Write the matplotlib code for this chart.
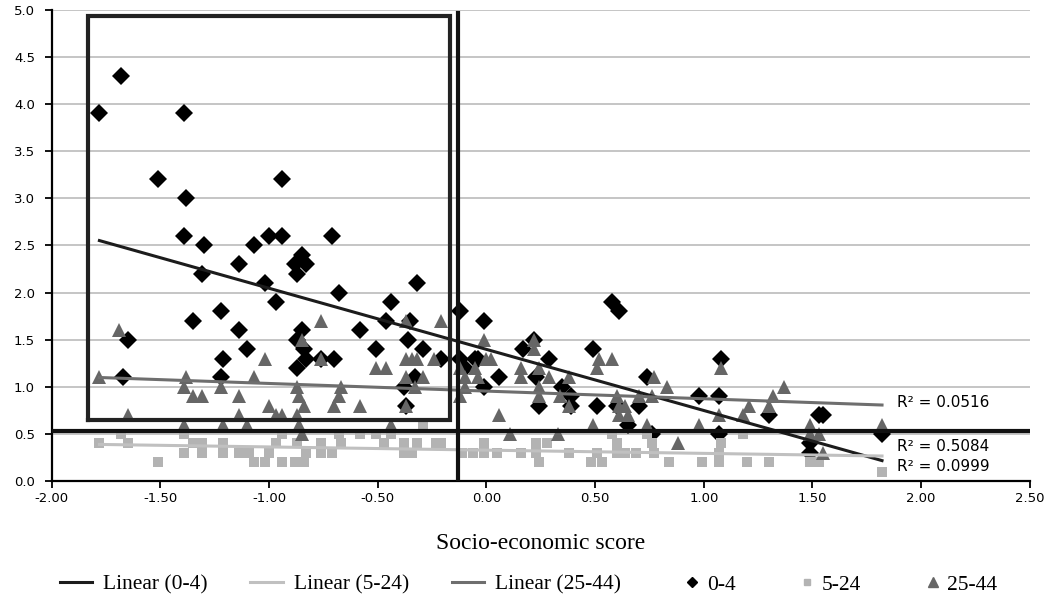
import numpy as np
import matplotlib
matplotlib.use('Agg')
import matplotlib.pyplot as plt
from matplotlib.lines import Line2D
from matplotlib.legend_handler import HandlerLine2D

# socio-economic score vs rate, three age groups
x_0_4 = [-1.78, -1.68, -1.39, -1.51, -0.94, -1.38, -1.39, -1.30, -1.07, -1.00,
         -0.94, -0.71, -1.14, -0.85, -0.88, -0.83, -0.87, -1.31, -1.02, -0.32,
         -0.97, -0.68, -0.44, -1.35, -1.22, -1.14, -1.10, -1.21, -1.22, -1.65,
         -1.67, -0.85, -0.87, -0.84, -0.83, -0.87, -0.76, -0.70, -0.46, -0.35,
         -0.58, -0.51, -0.36, -0.29, -0.21, -0.12, -0.12, -0.10, -0.01, -0.05,
         -0.04, 0.06, -0.01, -0.38, -0.37, -0.33, 0.17, 0.22, 0.29, 0.23,
         0.24, 0.35, 0.39, 0.39, 0.49, 0.51, 0.58, 0.61, 0.65, 0.60,
         0.70, 0.74, 0.76, 0.98, 1.07, 1.08, 1.07, 1.30, 1.49, 1.49,
         1.53, 1.55, 1.82]
y_0_4 = [3.9, 4.3, 3.9, 3.2, 3.2, 3.0, 2.6, 2.5, 2.5, 2.6,
         2.6, 2.6, 2.3, 2.4, 2.3, 2.3, 2.2, 2.2, 2.1, 2.1,
         1.9, 2.0, 1.9, 1.7, 1.8, 1.6, 1.4, 1.3, 1.1, 1.5,
         1.1, 1.6, 1.5, 1.4, 1.3, 1.2, 1.3, 1.3, 1.7, 1.7,
         1.6, 1.4, 1.5, 1.4, 1.3, 1.8, 1.3, 1.2, 1.7, 1.3,
         1.3, 1.1, 1.0, 1.0, 0.8, 1.1, 1.4, 1.5, 1.3, 1.1,
         0.8, 1.0, 0.9, 0.8, 1.4, 0.8, 1.9, 1.8, 0.6, 0.8,
         0.8, 1.1, 0.5, 0.9, 0.9, 1.3, 0.5, 0.7, 0.4, 0.3,
         0.7, 0.7, 0.5]

x_5_24 = [-1.78, -1.68, -1.65, -1.51, -1.39, -1.35, -1.31, -1.39, -1.31, -1.21,
          -1.21, -1.14, -1.09, -1.07, -1.02, -1.00, -0.97, -0.94, -0.94, -0.88,
          -0.84, -0.87, -0.83, -0.76, -0.76, -0.71, -0.67, -0.68, -0.58, -0.51,
          -0.44, -0.47, -0.38, -0.32, -0.38, -0.34, -0.29, -0.23, -0.21, -0.11,
          -0.06, -0.01, 0.05, -0.01, 0.16, 0.23, 0.28, 0.23, 0.24, 0.38,
          0.51, 0.48, 0.53, 0.58, 0.60, 0.60, 0.64, 0.69, 0.74, 0.76,
          0.77, 0.84, 0.99, 1.07, 1.08, 1.07, 1.18, 1.20, 1.30, 1.49,
          1.53, 1.82]
y_5_24 = [0.4, 0.5, 0.4, 0.2, 0.5, 0.4, 0.4, 0.3, 0.3, 0.4,
          0.3, 0.3, 0.3, 0.2, 0.2, 0.3, 0.4, 0.5, 0.2, 0.2,
          0.2, 0.4, 0.3, 0.4, 0.3, 0.3, 0.4, 0.5, 0.5, 0.5,
          0.5, 0.4, 0.4, 0.4, 0.3, 0.3, 0.6, 0.4, 0.4, 0.3,
          0.3, 0.3, 0.3, 0.4, 0.3, 0.4, 0.4, 0.3, 0.2, 0.3,
          0.3, 0.2, 0.2, 0.5, 0.4, 0.3, 0.3, 0.3, 0.5, 0.4,
          0.3, 0.2, 0.2, 0.2, 0.4, 0.3, 0.5, 0.2, 0.2, 0.2,
          0.2, 0.1]

x_25_44 = [-1.78, -1.69, -1.65, -1.38, -1.39, -1.35, -1.31, -1.39, -1.22, -1.21,
           -1.14, -1.14, -1.10, -1.07, -1.02, -1.00, -0.97, -0.94, -0.87, -0.85,
           -0.87, -0.86, -0.84, -0.86, -0.85, -0.76, -0.76, -0.70, -0.68, -0.67,
           -0.58, -0.51, -0.46, -0.44, -0.37, -0.37, -0.34, -0.32, -0.37, -0.29,
           -0.33, -0.37, -0.24, -0.21, -0.12, -0.12, -0.10, -0.10, -0.01, -0.05,
           0.00, 0.02, -0.04, 0.06, 0.11, 0.16, 0.16, 0.22, 0.22, 0.24,
           0.29, 0.24, 0.24, 0.34, 0.38, 0.38, 0.33, 0.51, 0.52, 0.58,
           0.49, 0.60, 0.61, 0.61, 0.64, 0.65, 0.70, 0.74, 0.76, 0.77,
           0.83, 0.88, 0.98, 1.08, 1.07, 1.18, 1.21, 1.30, 1.32, 1.37,
           1.49, 1.49, 1.53, 1.55, 1.82]
y_25_44 = [1.1, 1.6, 0.7, 1.1, 1.0, 0.9, 0.9, 0.6, 1.0, 0.6,
           0.9, 0.7, 0.6, 1.1, 1.3, 0.8, 0.7, 0.7, 0.7, 0.5,
           1.0, 0.9, 0.8, 0.6, 1.5, 1.7, 1.3, 0.8, 0.9, 1.0,
           0.8, 1.2, 1.2, 0.6, 1.7, 1.3, 1.3, 1.3, 1.1, 1.1,
           1.0, 0.8, 1.3, 1.7, 1.2, 0.9, 1.1, 1.0, 1.5, 1.2,
           1.3, 1.3, 1.1, 0.7, 0.5, 1.2, 1.1, 1.5, 1.4, 1.2,
           1.1, 1.0, 0.9, 0.9, 1.1, 0.8, 0.5, 1.2, 1.3, 1.3,
           0.6, 0.9, 0.8, 0.7, 0.8, 0.7, 0.9, 0.6, 0.9, 1.1,
           1.0, 0.4, 0.6, 1.2, 0.7, 0.7, 0.8, 0.8, 0.9, 1.0,
           0.6, 0.5, 0.5, 0.3, 0.6]

r2_labels = ['R² = 0.0516', 'R² = 0.5084', 'R² = 0.0999']
r2_pos = [(1.89, 0.83), (1.89, 0.37), (1.89, 0.16)]

# highlight shapes drawn over the chart
box_x = (-1.834, -0.166)
box_y = (0.65, 4.93)
cut_x = -0.13
cut_y = 0.535

series = [
    ('0-4', x_0_4, y_0_4, 'D', 9.0, '#000000', '#1c1c1c'),
    ('5-24', x_5_24, y_5_24, 's', 7.0, '#b3b3b3', '#c0c0c0'),
    ('25-44', x_25_44, y_25_44, '^', 10.5, '#666666', '#6e6e6e'),
]


class RightMarkerHandler(HandlerLine2D):
    # single marker sits next to the text, like Excel does
    def get_xdata(self, legend, xdescent, ydescent, width, height, fontsize):
        xdata = np.array([-xdescent + 0.76 * width, -xdescent + width])
        return xdata, xdata[:1]


fig = plt.figure(figsize=(10.53, 6.09), dpi=100)
ax = fig.add_axes([0.049, 0.21, 0.929, 0.774])

for name, xs, ys, marker, ms, color, _ in series:
    ax.plot(xs, ys, linestyle='none', marker=marker, markersize=ms,
            color=color, markeredgewidth=0, zorder=3)

for name, xs, ys, marker, ms, color, line_color in series:
    xs = np.array(xs)
    slope, intercept = np.polyfit(xs, ys, 1)
    fit_x = np.array([xs.min(), xs.max()])
    ax.plot(fit_x, slope * fit_x + intercept, color=line_color, lw=2.2, zorder=4)

for label, (tx, ty) in zip(r2_labels, r2_pos):
    ax.text(tx, ty, label, fontsize=11, va='center', ha='left', zorder=5)

ax.plot([box_x[0], box_x[0], box_x[1], box_x[1], box_x[0]],
        [box_y[0], box_y[1], box_y[1], box_y[0], box_y[0]],
        color='#222222', lw=3, solid_joinstyle='miter', zorder=6)
ax.plot([cut_x, cut_x], [0, 4.97], color='#111111', lw=3, zorder=6)
ax.axhline(cut_y, color='#111111', lw=3, zorder=6)

ax.set_xlim(-2.0, 2.5)
ax.set_ylim(0, 5.0)
ax.set_xticks(np.arange(-2.0, 2.51, 0.5))
ax.set_yticks(np.arange(0, 5.01, 0.5))
ax.set_xticklabels([f'{v:.2f}' for v in np.arange(-2.0, 2.51, 0.5)])
ax.set_yticklabels([f'{v:.1f}' for v in np.arange(0, 5.01, 0.5)])
ax.grid(axis='y', color='#c0c0c0', lw=1.3, zorder=0)
ax.set_axisbelow(True)
for side in ['top', 'right']:
    ax.spines[side].set_visible(False)
ax.spines['left'].set_linewidth(1.6)
ax.spines['bottom'].set_linewidth(1.6)
ax.tick_params(axis='both', direction='out', length=5, width=1.3, labelsize=9.5)
ax.tick_params(axis='x', pad=3)
ax.tick_params(axis='y', pad=7)
ax.set_xlabel('Socio-economic score', family='Liberation Serif', fontsize=17, labelpad=20)

handles = [
    Line2D([], [], color='#1c1c1c', lw=2.2),
    Line2D([], [], color='#c0c0c0', lw=2.2),
    Line2D([], [], color='#6e6e6e', lw=2.2),
    Line2D([], [], ls='none', marker='D', ms=5.5, color='#000000'),
    Line2D([], [], ls='none', marker='s', ms=5, color='#b3b3b3'),
    Line2D([], [], ls='none', marker='^', ms=6.5, color='#666666'),
]
labels = ['Linear (0-4)', 'Linear (5-24)', 'Linear (25-44)', '0-4', '5-24', '25-44']
marker_handler = RightMarkerHandler()
fig.legend(handles, labels, loc='center', bbox_to_anchor=(0.502, 0.04), ncol=6,
           frameon=False, prop={'family': 'Liberation Serif', 'size': 15.5},
           handlelength=1.5, columnspacing=2.0, handletextpad=0.5,
           handler_map={h: marker_handler for h in handles[3:]})

fig.savefig('out.png', dpi=100)
